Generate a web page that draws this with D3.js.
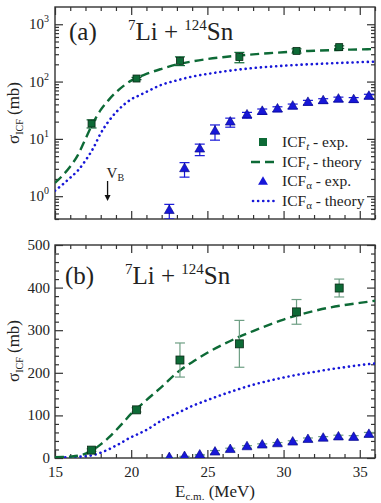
<!DOCTYPE html>
<html>
<head>
<meta charset="utf-8">
<script src="https://cdn.jsdelivr.net/npm/d3@7"></script>
<style>
body { margin: 0; background: #fff; }
svg text { font-family: "Liberation Serif", "Times New Roman", Times, serif; fill: #222; }
</style>
</head>
<body>
<svg id="chart" width="381" height="503"></svg>
<script>
// ICF_t experimental (green squares)
const expT_E   = [17.4, 20.35, 23.2, 27.1, 30.85, 33.65];
const expT_sig = [18.5, 113, 230, 268, 343, 399];
const expT_err = [3, 5, 40, 55, 29, 21];

// ICF_alpha experimental (blue triangles)
const expA_E   = [22.5, 23.5, 24.5, 25.5, 26.5, 27.6, 28.6, 29.6, 30.6, 31.6, 32.6, 33.6, 34.6, 35.6];
const expA_sig = [0.56, 3.0, 6.6, 13.5, 19.5, 26, 30, 33, 37, 43, 46, 49, 48, 55];
const expA_err = [0.16, 0.85, 1.5, 4, 3.5, 3, 3.2, 3.3, 3.5, 4, 4.2, 4.5, 4.5, 5];

// theory curves
const theoE = [15, 15.5, 16, 16.5, 17, 17.5, 18, 18.5, 19, 19.5, 20, 20.5, 21, 22, 23, 24, 25, 26, 27, 28, 29, 30, 31, 32, 33, 34, 35, 36];
const theoT = [1.7, 2.3, 3.3, 5.2, 10, 19, 32, 47, 65, 84, 104, 120, 136, 167, 200, 225, 247, 266, 283, 298, 312, 325, 336, 345, 353, 359, 364, 369];
const theoA = [1.25, 1.6, 2.1, 2.8, 4.2, 6.8, 12.5, 20, 29, 39, 49, 57, 66, 88, 105, 122, 136, 149, 161, 172, 181, 189, 196, 202, 208, 213, 218, 222];

const xMajor = [15, 20, 25, 30, 35];
const logMajor = [1, 10, 100, 1000];
const linMajor = [0, 100, 200, 300, 400, 500];
const vbE = 18.45;

const green = "#0d6a36", greenErr = "#6e9f84", blue = "#1717d8";

const svg = d3.select("#chart");
const x = d3.scaleLinear().domain([15, 36]).range([55, 375]);
const yA = d3.scaleLog().domain([0.4, 2000]).range([219, 7]);
const yB = d3.scaleLinear().domain([0, 500]).range([458, 245]);

const xMinor = d3.range(15, 37).filter(v => v % 5 !== 0);
let logMinor = [];
[0.1, 1, 10, 100].forEach(d => { for (let k = 2; k <= 9; k++) logMinor.push(d * k); });
logMinor = logMinor.filter(v => v >= 0.4 && v < 2000);
const linMinor = d3.range(0, 501, 20).filter(v => v % 100 !== 0);

function frame(y, top, bot, yMaj, yMin, xLabels) {
  const g = svg.append("g");
  const axes = [
    [d3.axisBottom(x), bot, true], [d3.axisTop(x), top, false]
  ];
  axes.forEach(([ax, pos, lab]) => {
    g.append("g").attr("transform", `translate(0,${pos})`)
      .call(ax.tickValues(xMajor).tickSize(-8).tickPadding(8).tickFormat(lab && xLabels ? d3.format("d") : ""));
    const ax2 = (pos === bot ? d3.axisBottom(x) : d3.axisTop(x));
    g.append("g").attr("transform", `translate(0,${pos})`)
      .call(ax2.tickValues(xMinor).tickSize(-4).tickFormat(""));
  });
  [[d3.axisLeft(y), 55], [d3.axisRight(y), 375]].forEach(([ax, pos]) => {
    g.append("g").attr("transform", `translate(${pos},0)`)
      .call(ax.tickValues(yMaj).tickSize(-8).tickFormat(""));
    const ax2 = pos === 55 ? d3.axisLeft(y) : d3.axisRight(y);
    g.append("g").attr("transform", `translate(${pos},0)`)
      .call(ax2.tickValues(yMin).tickSize(-4).tickFormat(""));
  });
  g.selectAll(".domain").remove();
  g.selectAll(".tick line").attr("stroke", "#333").attr("stroke-width", 1.2);
  g.selectAll(".tick text").attr("font-size", 15).attr("fill", "#222");
  g.append("rect").attr("x", 55).attr("y", top).attr("width", 320).attr("height", bot - top)
    .attr("fill", "none").attr("stroke", "#333").attr("stroke-width", 1.4);
}

frame(yA, 7, 219, logMajor, logMinor, false);
frame(yB, 245, 458, linMajor, linMinor, true);

// y tick labels
logMajor.forEach(v => {
  const t = svg.append("text").attr("x", 49).attr("y", yA(v) + 5).attr("text-anchor", "end").attr("font-size", 15);
  t.append("tspan").text("10");
  t.append("tspan").attr("dy", -7).attr("font-size", 10).text(Math.round(Math.log10(v)));
});
linMajor.forEach(v => {
  svg.append("text").attr("x", 50).attr("y", yB(v) + 5).attr("text-anchor", "end").attr("font-size", 15).text(v);
});

// clip paths
svg.append("clipPath").attr("id", "clipA").append("rect").attr("x", 55).attr("y", 7).attr("width", 320).attr("height", 212);
svg.append("clipPath").attr("id", "clipB").append("rect").attr("x", 55).attr("y", 245).attr("width", 320).attr("height", 213);

function panel(y, clip, sqSize, errColT, errColA) {
  const g = svg.append("g").attr("clip-path", `url(#${clip})`);
  const line = vals => d3.line().curve(d3.curveMonotoneX)
    .x((d, i) => x(theoE[i])).y(d => y(d))(vals);
  g.append("path").attr("d", line(theoA)).attr("fill", "none").attr("stroke", blue)
    .attr("stroke-width", 2.6).attr("stroke-dasharray", "0.1,5").attr("stroke-linecap", "round");
  g.append("path").attr("d", line(theoT)).attr("fill", "none").attr("stroke", green)
    .attr("stroke-width", 2.4).attr("stroke-dasharray", "9,5");

  const err = (E, s, e, col) => {
    E.forEach((v, i) => {
      const lo = Math.max(s[i] - e[i], y.domain()[0]);
      const y0 = y(lo), y1 = y(s[i] + e[i]), cx = x(v);
      g.append("line").attr("x1", cx).attr("x2", cx).attr("y1", y0).attr("y2", y1).attr("stroke", col).attr("stroke-width", 1.2);
      [y0, y1].forEach(yy => g.append("line").attr("x1", cx - 5).attr("x2", cx + 5).attr("y1", yy).attr("y2", yy)
        .attr("stroke", col).attr("stroke-width", 1.2));
    });
  };
  err(expA_E, expA_sig, expA_err, errColA);
  err(expT_E, expT_sig, expT_err, errColT);

  const tri = d3.symbol(d3.symbolTriangle).size(42);
  expA_E.forEach((v, i) => {
    g.append("path").attr("d", tri()).attr("transform", `translate(${x(v)},${y(Math.max(expA_sig[i], 0))})`)
      .attr("fill", blue).attr("stroke", "#000080").attr("stroke-width", 0.6);
  });
  expT_E.forEach((v, i) => {
    g.append("rect").attr("x", x(v) - sqSize / 2).attr("y", y(expT_sig[i]) - sqSize / 2)
      .attr("width", sqSize).attr("height", sqSize).attr("fill", green)
      .attr("stroke", "#0a2a16").attr("stroke-width", 0.8);
  });
}

panel(yA, "clipA", 7, green, blue);
panel(yB, "clipB", 8, greenErr, greenErr);

// titles
function title(lbl, lx, ly, tx, ty) {
  svg.append("text").attr("x", lx).attr("y", ly).attr("font-size", 25).text(lbl);
  const t = svg.append("text").attr("x", tx).attr("y", ty).attr("font-size", 25);
  t.append("tspan").attr("font-size", 15).attr("dy", -10).text("7");
  t.append("tspan").attr("dy", 10).text("Li + ");
  t.append("tspan").attr("font-size", 15).attr("dy", -10).text("124");
  t.append("tspan").attr("dy", 10).text("Sn");
}
title("(a)", 69, 40, 128, 40);
title("(b)", 65, 284, 125, 284);

// legend
const legend = [
  { t: "t", s: " - exp.", kind: "sq" },
  { t: "t", s: " - theory", kind: "dash" },
  { t: "α", s: " - exp.", kind: "tri" },
  { t: "α", s: " - theory", kind: "dot" }
];
const legY = [142, 162, 181, 201];
legend.forEach((d, i) => {
  const yy = legY[i];
  if (d.kind === "sq") svg.append("rect").attr("x", 259).attr("y", yy - 4).attr("width", 8).attr("height", 8).attr("fill", green);
  if (d.kind === "tri") svg.append("path").attr("d", d3.symbol(d3.symbolTriangle).size(42)()).attr("transform", `translate(263,${yy + 1})`).attr("fill", blue);
  if (d.kind === "dash") svg.append("line").attr("x1", 251).attr("x2", 276).attr("y1", yy).attr("y2", yy)
    .attr("stroke", green).attr("stroke-width", 2.4).attr("stroke-dasharray", "9,5");
  if (d.kind === "dot") svg.append("line").attr("x1", 253).attr("x2", 276).attr("y1", yy).attr("y2", yy)
    .attr("stroke", blue).attr("stroke-width", 2.6).attr("stroke-dasharray", "0.1,5").attr("stroke-linecap", "round");
  const t = svg.append("text").attr("x", 282).attr("y", yy + 5).attr("font-size", 15.5);
  t.append("tspan").text("ICF");
  t.append("tspan").attr("dy", 3).attr("font-size", 11).attr("font-style", d.t === "t" ? "italic" : "normal").text(d.t);
  t.append("tspan").attr("dy", -3).text(d.s);
});

// V_B marker
const vbx = x(vbE);
const vb = svg.append("text").attr("x", vbx - 1).attr("y", 178).attr("font-size", 15);
vb.append("tspan").text("V");
vb.append("tspan").attr("dy", 3).attr("font-size", 10).text("B");
svg.append("line").attr("x1", vbx).attr("x2", vbx).attr("y1", 181).attr("y2", 197).attr("stroke", "#111").attr("stroke-width", 1.3);
svg.append("path").attr("d", `M${vbx - 3},${195} L${vbx + 3},${195} L${vbx},${201} Z`).attr("fill", "#111");

// axis titles
[113, 351].forEach(cy => {
  const t = svg.append("text").attr("transform", `translate(19,${cy}) rotate(-90)`).attr("text-anchor", "middle").attr("font-size", 17);
  t.append("tspan").text("σ");
  t.append("tspan").attr("dy", 4).attr("font-size", 10).text("ICF");
  t.append("tspan").attr("dy", -4).text(" (mb)");
});
const xl = svg.append("text").attr("x", 215).attr("y", 497).attr("text-anchor", "middle").attr("font-size", 17);
xl.append("tspan").text("E");
xl.append("tspan").attr("dy", 3).attr("font-size", 11).text("c.m.");
xl.append("tspan").attr("dy", -3).text(" (MeV)");
</script>
</body>
</html>
